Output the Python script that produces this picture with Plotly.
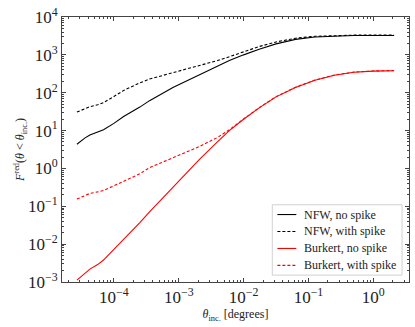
import numpy as np
import plotly.graph_objects as go

# log10 of inclusion angle [degrees]
log_theta = [-4.57, -4.45, -4.37, -4.25, -4.16, -4.0, -3.85, -3.6, -3.45, -3.09,
             -2.68, -2.4, -2.22, -2.0, -1.76, -1.5, -1.2, -0.9, -0.6, -0.3, 0.0, 0.32]

# log10 of F^red for each halo model
nfw_no_spike = [0.64, 0.80, 0.88, 0.95, 1.02, 1.19, 1.37, 1.62, 1.79, 2.14,
                2.48, 2.70, 2.85, 3.00, 3.15, 3.29, 3.41, 3.47, 3.50, 3.51, 3.51, 3.51]
nfw_spike = [1.49, 1.58, 1.63, 1.68, 1.74, 1.90, 2.06, 2.26, 2.36, 2.53,
             2.71, 2.85, 2.95, 3.08, 3.22, 3.34, 3.44, 3.49, 3.51, 3.52, 3.52, 3.52]
burkert_no_spike = [-2.95, -2.78, -2.66, -2.54, -2.42, -2.14, -1.88, -1.43, -1.15, -0.50,
                    0.24, 0.71, 1.00, 1.30, 1.60, 1.89, 2.14, 2.33, 2.46, 2.54, 2.57, 2.58]
burkert_spike = [-0.81, -0.72, -0.66, -0.62, -0.58, -0.46, -0.34, -0.14, 0.02, 0.28,
                 0.58, 0.82, 1.02, 1.305, 1.605, 1.895, 2.145, 2.335, 2.465, 2.545, 2.575, 2.585]

series = [
    ("NFW, no spike", nfw_no_spike, "black", "solid"),
    ("NFW, with spike", nfw_spike, "black", "3px,2px"),
    ("Burkert, no spike", burkert_no_spike, "red", "solid"),
    ("Burkert, with spike", burkert_spike, "red", "3px,2px"),
]

x = 10 ** np.array(log_theta)
font = "Liberation Serif"

fig = go.Figure()
for name, vals, col, dash in series:
    fig.add_trace(go.Scatter(x=x, y=10 ** np.array(vals), mode="lines", name=name,
                             line=dict(color=col, width=1.1, dash=dash), showlegend=False))

# matplotlib-style legend box in the lower right (paper coords)
fig.add_shape(type="rect", xref="paper", yref="paper", x0=0.606, x1=0.98, y0=0.026, y1=0.2915,
              line=dict(color="#d0d0d0", width=1), fillcolor="white", layer="above")
for i, (name, vals, col, dash) in enumerate(series):
    yy = 0.2546 - i * 0.0640
    fig.add_shape(type="line", xref="paper", yref="paper", x0=0.6207, x1=0.6753, y0=yy, y1=yy,
                  line=dict(color=col, width=1.1, dash=dash), layer="above")
    fig.add_annotation(xref="paper", yref="paper", x=0.6925, y=yy, text=name, showarrow=False,
                       xanchor="left", yanchor="middle",
                       font=dict(family=font, size=12, color="#222"))

axis_common = dict(type="log", ticks="inside", mirror="ticks", showline=True,
                   linecolor="#444", linewidth=1, tickcolor="#444", ticklen=4,
                   showgrid=False, zeroline=False, dtick=1, ticklabeloverflow="allow",
                   minor=dict(ticks="inside", ticklen=2, tickcolor="#444", dtick="D1", showgrid=False),
                   tickfont=dict(family=font, size=17, color="#222"))

xt = [-4, -3, -2, -1, 0]
yt = [-3, -2, -1, 0, 1, 2, 3, 4]

def sup(p):
    return "10<sup>%s</sup>" % str(p).replace("-", "−")

fig.update_xaxes(range=[-4.8, 0.55], tickvals=[10.0 ** p for p in xt],
                 ticktext=[sup(p) for p in xt],
                 title=dict(text="<i>θ</i><sub>inc.</sub> [degrees]", font=dict(family=font, size=12, color="#222"), standoff=2),
                 **axis_common)
fig.update_yaxes(range=[-3, 4], tickvals=[10.0 ** p for p in yt],
                 ticktext=[sup(p) for p in yt],
                 title=dict(text="<i>F</i><sup>red</sup>(<i>θ</i> &lt; <i>θ</i><sub>inc.</sub>)", font=dict(family=font, size=12, color="#222"), standoff=0),
                 **axis_common)

fig.update_layout(width=415, height=327, margin=dict(l=62, r=5, t=11, b=45),
                  plot_bgcolor="white", paper_bgcolor="white", showlegend=False)

# drop the default page margin so the figure sits at the window's corner
fig.write_html("out.html", config={"displayModeBar": False},
               post_script="document.body.style.margin='0';")
